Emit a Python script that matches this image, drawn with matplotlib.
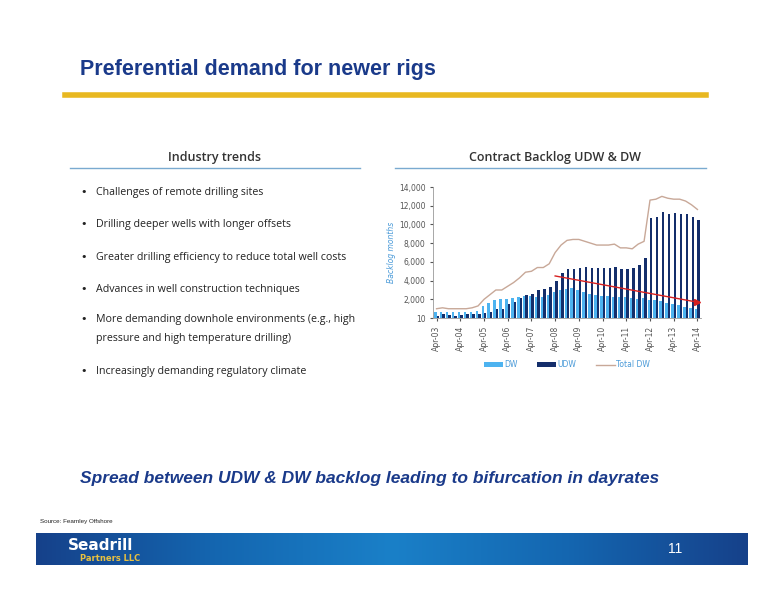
import numpy as np
import matplotlib.pyplot as plt
from matplotlib.colors import LinearSegmentedColormap

years = ["03", "04", "05", "06", "07", "08", "09", "10", "11", "12", "13", "14"]
tick_labels = ["Apr-" + y for y in years]

dw = [700, 600, 650, 700, 700, 700, 700, 800, 1300, 1600, 1900, 2000,
      2000, 2100, 2300, 2400, 2400, 2300, 2300, 2500, 2800, 3000, 3100, 3200,
      3000, 2800, 2600, 2500, 2400, 2400, 2300, 2200, 2200, 2100, 2000, 2100,
      1900, 1900, 1800, 1600, 1500, 1400, 1200, 1100, 1000]
udw = [200, 400, 300, 200, 300, 400, 400, 400, 500, 700, 1000, 1000,
       1500, 1700, 2100, 2500, 2600, 3000, 3100, 3300, 4000, 4800, 5200, 5200,
       5400, 5500, 5300, 5300, 5300, 5400, 5500, 5200, 5200, 5300, 5700, 6400,
       10700, 10800, 11300, 11100, 11200, 11100, 11100, 10800, 10500]
total_dw = [1000, 1100, 1000, 1000, 1000, 1000, 1100, 1300, 2000, 2500, 3000, 3000,
            3400, 3800, 4300, 4900, 5000, 5400, 5400, 5800, 7000, 7800, 8300, 8400,
            8400, 8200, 8000, 7800, 7800, 7800, 7900, 7500, 7500, 7400, 7900, 8200,
            12600, 12700, 13000, 12800, 12700, 12700, 12500, 12100, 11600]
trend_q = [20, 44]
trend_v = [4500, 1700]

bullets = [
    "Challenges of remote drilling sites",
    "Drilling deeper wells with longer offsets",
    "Greater drilling efficiency to reduce total well costs",
    "Advances in well construction techniques",
    "More demanding downhole environments (e.g., high\npressure and high temperature drilling)",
    "Increasingly demanding regulatory climate",
]

fig = plt.figure(figsize=(7.76, 6), dpi=100)

fig.text(80/776, 1-70/600, "Preferential demand for newer rigs", fontsize=15.5,
         fontweight="bold", color="#1a3a8a", family="Liberation Sans", va="center")
fig.add_artist(plt.Line2D([65/776, 706/776], [1-95/600]*2, color="#e8b820", lw=4))

# left panel
fig.text(215/776, 1-157/600, "Industry trends", fontsize=9, color="#333333",
         ha="center", va="center", family="Open Sans", fontweight="semibold")
fig.add_artist(plt.Line2D([70/776, 360/776], [1-168/600]*2, color="#7aaad0", lw=1))
ys = [187, 219, 252, 284, 314, 366]
for y, b in zip(ys, bullets):
    fig.text(80/776, 1-y/600, "•", fontsize=8, color="#222222", va="top")
    fig.text(96/776, 1-y/600, b, fontsize=7.7, color="#222222", va="top",
             family="Open Sans", linespacing=2.0)

# right panel
fig.text(555/776, 1-157/600, "Contract Backlog UDW & DW", fontsize=9, color="#333333",
         ha="center", va="center", family="Open Sans", fontweight="semibold")
fig.add_artist(plt.Line2D([395/776, 706/776], [1-168/600]*2, color="#7aaad0", lw=1))

ax = fig.add_axes([433/776, 1-318/600, 268/776, 131/600])
x = np.arange(len(dw))
w = 0.42
b1 = ax.bar(x - w/2, dw, w, color="#4db3f0", label="DW")
b2 = ax.bar(x + w/2, udw, w, color="#142e6b", label="UDW")
l1, = ax.plot(x, total_dw, color="#c8a898", lw=1, label="Total DW")
ax.plot(trend_q, trend_v, color="#d62020", lw=1)
ax.plot(trend_q[1], trend_v[1], marker=">", color="#d62020", ms=4)
ax.set_ylim(10, 14000)
ax.set_xlim(-0.6, len(dw) - 0.4)
ax.set_yticks([10, 2000, 4000, 6000, 8000, 10000, 12000, 14000])
ax.set_yticklabels(["10"] + [f"{v:,}" for v in range(2000, 14001, 2000)])
ax.set_xticks(np.arange(0, len(dw), 4))
ax.set_xticklabels(tick_labels, rotation=90)
ax.tick_params(labelsize=5.5, colors="#555555", length=2)
ax.set_ylabel("Backlog months", fontsize=5.5, color="#4a9ad8", style="italic", labelpad=2)
for s in ["top", "right"]:
    ax.spines[s].set_visible(False)
for s in ["left", "bottom"]:
    ax.spines[s].set_color("#999999")
    ax.spines[s].set_linewidth(0.6)
ax.legend(handles=[b1, b2, l1], loc="upper center", bbox_to_anchor=(0.5, -0.27), ncol=3,
          frameon=False, fontsize=5.5, handlelength=2.5, labelcolor="#4a9ad8",
          columnspacing=2.5, handletextpad=0.2)

fig.text(80/776, 1-478/600, "Spread between UDW & DW backlog leading to bifurcation in dayrates",
         fontsize=12.5, fontweight="bold", style="italic", color="#1a3a8a",
         family="Liberation Sans", va="center")
fig.text(40/776, 1-522/600, "Source: Fearnley Offshore", fontsize=4.5, color="#222222",
         va="center", family="Liberation Sans")

band = fig.add_axes([36/776, 1-565/600, 712/776, 32/600])
cmap = LinearSegmentedColormap.from_list("b", ["#16418a", "#1466b0", "#1a80c8", "#1466b0", "#16418a"])
band.imshow(np.linspace(0, 1, 256)[None, :], cmap=cmap, aspect="auto", extent=[0, 1, 0, 1])
band.set_axis_off()
band.text(0.045, 0.6, "Seadrill", color="white", fontsize=11, fontweight="bold",
          va="center", family="Liberation Sans Narrow")
band.text(0.062, 0.2, "Partners LLC", color="#e8c040", fontsize=6, va="center",
          family="Liberation Sans Narrow", fontweight="bold")
band.text(0.888, 0.5, "11", color="white", fontsize=10, va="center", family="Liberation Sans")

fig.savefig("out.png", dpi=100)
